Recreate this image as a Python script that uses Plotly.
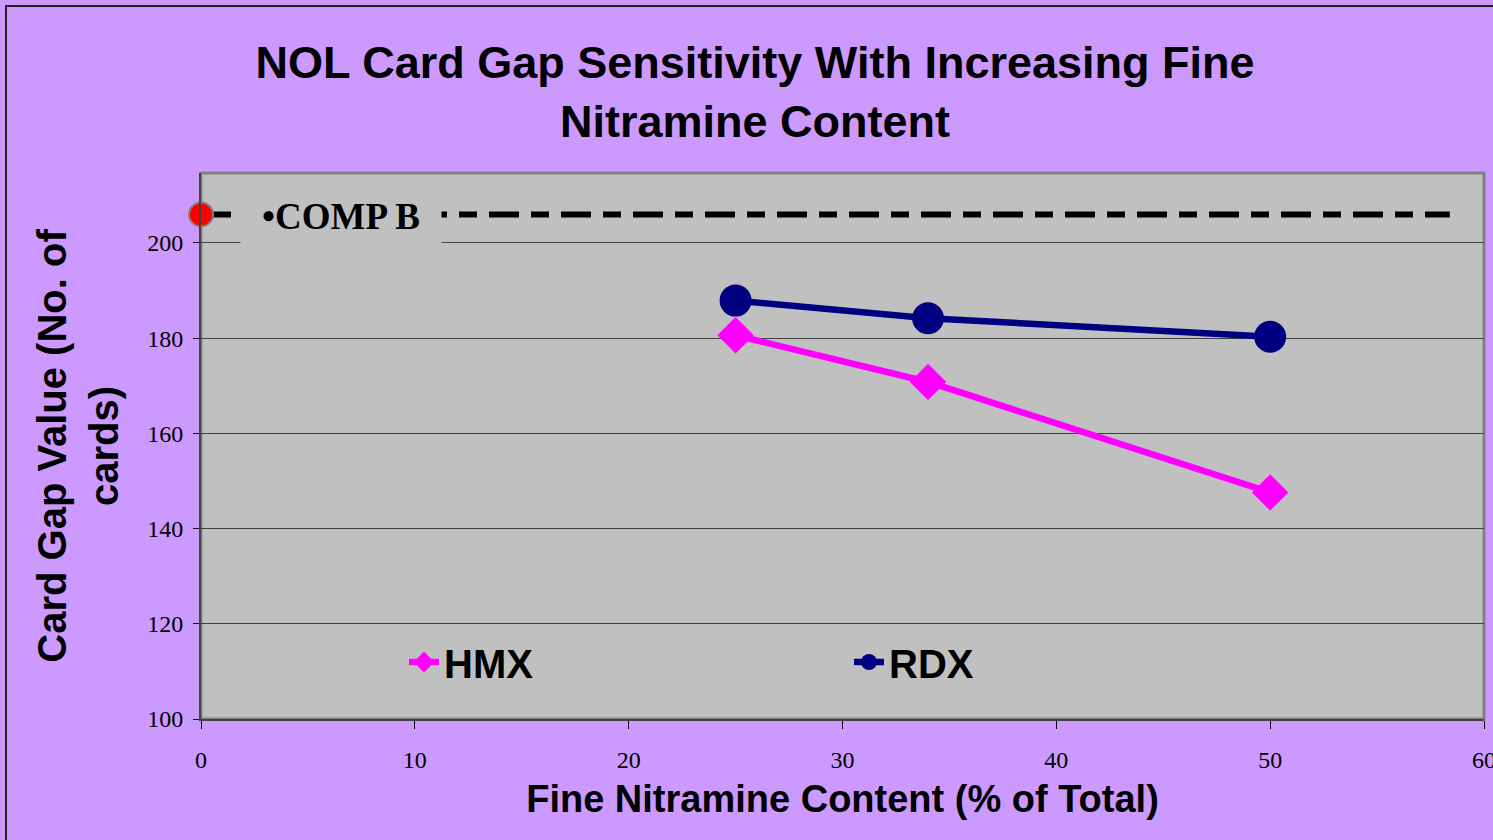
import plotly.graph_objects as go

# ---- data ----
fine_content = [25, 34, 50]                 # % fine nitramine of total
hmx_values = [180.6, 170.8, 147.6]          # card gap value, HMX
rdx_values = [187.9, 184.2, 180.3]          # card gap value, RDX
comp_b_x = [0, 58.4]
comp_b_y = [206, 206]                       # COMP B reference level
x_ticks = [0, 10, 20, 30, 40, 50, 60]
y_ticks = [100, 120, 140, 160, 180, 200]
x_range = [0, 60]
y_range = [100, 214.7]

NARROW = "Liberation Sans Narrow, Arial Narrow, Liberation Sans, Arial, sans-serif"
SERIF = "Liberation Serif, Times New Roman, serif"
PLOT_BG = "#C0C0C0"
PAPER_BG = "#CC99FF"

fig = go.Figure()

fig.add_trace(go.Scatter(
    x=comp_b_x, y=comp_b_y, mode="lines",
    line=dict(color="black", width=6, dash="30px,12px,18px,12px"),
    showlegend=False, hoverinfo="skip"))
fig.add_trace(go.Scatter(
    x=comp_b_x[:1], y=comp_b_y[:1], mode="markers",
    marker=dict(color="red", size=24, line=dict(color="#808080", width=2)),
    showlegend=False, cliponaxis=False, hoverinfo="skip"))
fig.add_trace(go.Scatter(
    x=fine_content, y=hmx_values, name="HMX", mode="lines+markers",
    line=dict(color="#FF00FF", width=6.5),
    marker=dict(symbol="diamond", size=28, color="#FF00FF")))
fig.add_trace(go.Scatter(
    x=fine_content, y=rdx_values, name="RDX", mode="lines+markers",
    line=dict(color="#000080", width=6.5),
    marker=dict(symbol="circle", size=32, color="#000080")))

W, H = 1493, 840
L, R, T, B = 201, 9, 173, 121
pw, ph = W - L - R, H - T - B

def px_x(p):
    return (p - L) / pw

def px_y(p):
    return (H - B - p) / ph

fig.update_layout(
    width=W, height=H,
    margin=dict(l=L, r=R, t=T, b=B, autoexpand=False),
    paper_bgcolor=PAPER_BG, plot_bgcolor=PLOT_BG,
    title=dict(
        text="NOL Card Gap Sensitivity With Increasing Fine<br>Nitramine Content",
        font=dict(family=NARROW, size=45, color="black", weight="bold"),
        x=755 / W, xanchor="center", xref="container",
        y=1 - 78 / H, yanchor="middle", yref="container"),
    xaxis=dict(
        range=x_range, tickvals=x_ticks, ticks="outside", ticklen=8,
        tickcolor="black", tickwidth=1, showline=True, linecolor="#404040",
        linewidth=2, showgrid=False, zeroline=False, automargin=False,
        ticklabeloverflow="allow",
        tickfont=dict(family=SERIF, size=24, color="black"),
        ticklabelstandoff=10,
        title=dict(text="Fine Nitramine Content (% of Total)",
                   font=dict(family=NARROW, size=38, color="black", weight="bold"),
                   standoff=14)),
    yaxis=dict(
        range=y_range, tickvals=y_ticks, ticks="outside", ticklen=6,
        tickcolor="black", tickwidth=1, showline=True, linecolor="#404040",
        linewidth=2, showgrid=True, gridcolor="#404040", gridwidth=1.3,
        zeroline=False, automargin=False, ticklabeloverflow="allow",
        tickfont=dict(family=SERIF, size=24, color="black"),
        ticklabelstandoff=5,
        title=dict(text="Card Gap Value (No. of<br>cards)",
                   font=dict(family=NARROW, size=40, color="black", weight="bold"),
                   standoff=16)),
    legend=dict(
        orientation="h", x=px_x(404), xanchor="left",
        y=px_y(662), yanchor="middle",
        bgcolor=PLOT_BG, borderwidth=0,
        entrywidth=400, entrywidthmode="pixels",
        font=dict(family=NARROW, size=40, color="black", weight="bold")),
    showlegend=True,
)

# COMP B label box
fig.add_annotation(
    x=(341 - L) / pw * (x_range[1] - x_range[0]), y=comp_b_y[0], xref="x", yref="y",
    text="•COMP B", showarrow=False,
    font=dict(family=SERIF, size=37, color="black", weight="bold"),
    bgcolor=PLOT_BG, width=198, height=58, yshift=-2)

# cover gridline behind legend area
fig.add_shape(type="rect", xref="paper", yref="paper",
              x0=0.002, x1=px_x(1085), y0=px_y(628), y1=px_y(618),
              fillcolor=PLOT_BG, line=dict(width=0), layer="between")
# plot area frame
fig.add_shape(type="rect", xref="paper", yref="paper", x0=0, x1=1, y0=0, y1=1,
              line=dict(color="#808080", width=3), layer="below")
# outer border
fig.add_shape(type="rect", xref="paper", yref="paper",
              x0=px_x(6), x1=px_x(1510), y0=px_y(860), y1=px_y(6),
              line=dict(color="#202020", width=2), layer="above")

fig.write_html("out.html", config={"displayModeBar": False},
               post_script="document.body.style.margin='0';")
